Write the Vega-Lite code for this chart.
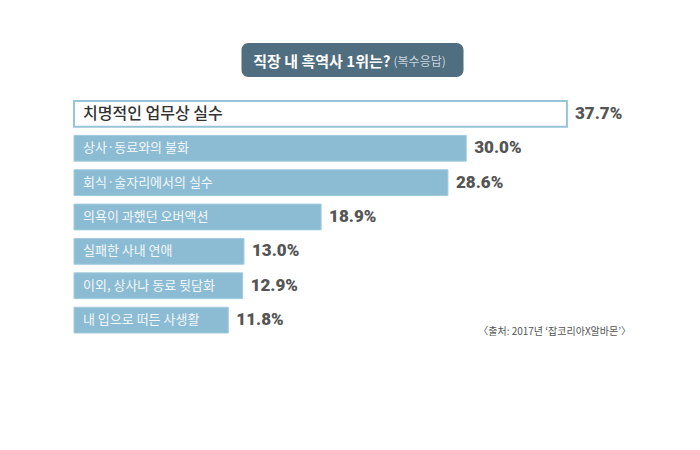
{
  "$schema": "https://vega.github.io/schema/vega-lite/v6.json",
  "background": "white",
  "padding": {"left": 73, "top": 43, "right": 0, "bottom": 0},
  "config": {"view": {"stroke": null}, "font": "Noto Sans CJK KR"},
  "spacing": 22,
  "center": true,
  "vconcat": [
    {
      "width": 222,
      "height": 34,
      "view": {"fill": "#4f6e80", "stroke": null, "cornerRadius": 7},
      "data": {"values": [{"main": "직장 내 흑역사 1위는?", "sub": "(복수응답)"}]},
      "layer": [
        {
          "mark": {"type": "text", "align": "right", "baseline": "middle", "dx": 38, "dy": 2, "fontSize": 15, "fontWeight": "bold", "color": "#ffffff"},
          "encoding": {"text": {"field": "main"}}
        },
        {
          "mark": {"type": "text", "align": "left", "baseline": "middle", "dx": 41, "dy": 2, "fontSize": 12, "color": "#c9d5dd"},
          "encoding": {"text": {"field": "sub"}}
        }
      ]
    },
    {
      "width": 523,
      "height": 232,
      "data": {"values": [
        {"item": "치명적인 업무상 실수", "pct": 37.7, "label": "37.7%"},
        {"item": "상사·동료와의 불화", "pct": 30.0, "label": "30.0%"},
        {"item": "회식·술자리에서의 실수", "pct": 28.6, "label": "28.6%"},
        {"item": "의욕이 과했던 오버액션", "pct": 18.9, "label": "18.9%"},
        {"item": "실패한 사내 연애", "pct": 13.0, "label": "13.0%"},
        {"item": "이외, 상사나 동료 뒷담화", "pct": 12.9, "label": "12.9%"},
        {"item": "내 입으로 떠든 사생활", "pct": 11.8, "label": "11.8%"}
      ]},
      "layer": [
        {
          "mark": {"type": "bar"},
          "encoding": {
            "y": {"field": "item", "type": "nominal", "sort": null, "axis": null, "scale": {"paddingInner": 0.25, "paddingOuter": 0}},
            "x": {"field": "pct", "type": "quantitative", "scale": {"domain": [0, 40]}, "axis": null},
            "fill": {"condition": {"test": "datum.item === '치명적인 업무상 실수'", "value": "#ffffff"}, "value": "#8bbcd3"},
            "stroke": {"condition": {"test": "datum.item === '치명적인 업무상 실수'", "value": "#98c4da"}, "value": "#a3cbde"},
            "strokeWidth": {"condition": {"test": "datum.item === '치명적인 업무상 실수'", "value": 2}, "value": 1}
          }
        },
        {
          "transform": [{"filter": "datum.item === '치명적인 업무상 실수'"}],
          "mark": {"type": "text", "align": "left", "baseline": "middle", "dx": 9, "fontSize": 16, "fontWeight": 500, "color": "#333333"},
          "encoding": {
            "y": {"field": "item", "type": "nominal", "sort": null},
            "x": {"datum": 0, "type": "quantitative"},
            "text": {"field": "item"}
          }
        },
        {
          "transform": [{"filter": "datum.item !== '치명적인 업무상 실수'"}],
          "mark": {"type": "text", "align": "left", "baseline": "middle", "dx": 9, "fontSize": 13, "color": "#f2f7fa"},
          "encoding": {
            "y": {"field": "item", "type": "nominal", "sort": null},
            "x": {"datum": 0, "type": "quantitative"},
            "text": {"field": "item"}
          }
        },
        {
          "mark": {"type": "text", "align": "left", "baseline": "middle", "dx": 8, "font": "Roboto", "fontWeight": 900, "fontSize": 17, "color": "#555555"},
          "encoding": {
            "y": {"field": "item", "type": "nominal", "sort": null},
            "x": {"field": "pct", "type": "quantitative"},
            "text": {"field": "label"}
          }
        },
        {
          "data": {"values": [{"src": "〈출처: 2017년 ‘잡코리아X알바몬’〉"}]},
          "mark": {"type": "text", "align": "right", "baseline": "bottom", "dx": 34, "dy": 4, "fontSize": 10, "color": "#555555"},
          "encoding": {
            "x": {"value": "width"},
            "y": {"value": "height"},
            "text": {"field": "src"}
          }
        }
      ]
    }
  ]
}
